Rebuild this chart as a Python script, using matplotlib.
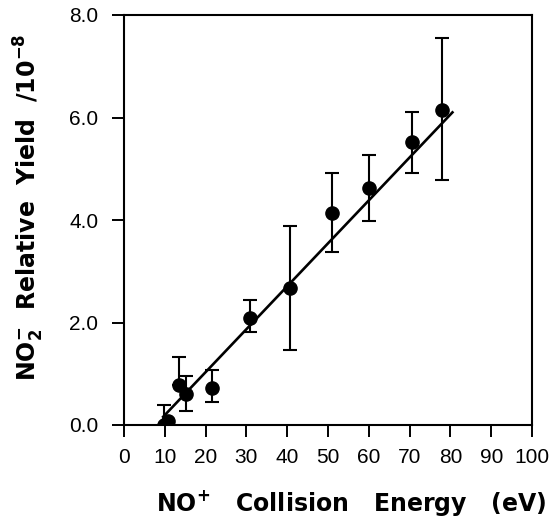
import matplotlib
matplotlib.use("Agg")
import matplotlib.pyplot as plt
import numpy as np

# Data
energy = [9.8, 10.8, 13.6, 15.2, 21.5, 30.9, 40.8, 51.1, 60.1, 70.7, 78.0]
yield_ = [0.00, 0.08, 0.78, 0.60, 0.73, 2.09, 2.68, 4.14, 4.63, 5.52, 6.15]
err_up = [0.40, 0.00, 1.32, 0.96, 1.07, 2.43, 3.89, 4.91, 5.27, 6.11, 7.55]
err_lo = [0.00, 0.00, 0.78, 0.28, 0.44, 1.81, 1.46, 3.37, 3.99, 4.92, 4.79]
fit_x = [9.6, 80.5]
fit_y = [0.16, 6.10]
x_ticks = [0, 10, 20, 30, 40, 50, 60, 70, 80, 90, 100]
y_ticks = [0.0, 2.0, 4.0, 6.0, 8.0]

plt.rcParams['font.family'] = ['Liberation Sans', 'DejaVu Sans']
plt.rcParams['mathtext.fontset'] = 'custom'
plt.rcParams['mathtext.rm'] = 'DejaVu Sans:bold'
plt.rcParams['mathtext.bf'] = 'DejaVu Sans:bold'
plt.rcParams['mathtext.default'] = 'rm'

fig = plt.figure(figsize=(5.53, 5.18), dpi=100)
ax = fig.add_axes([124/553, 93/518, 408/553, 410/518])

y = np.array(yield_)
lo = np.clip(y - np.array(err_lo), 0, None)
hi = np.clip(np.array(err_up) - y, 0, None)
ax.errorbar(energy, yield_, yerr=[lo, hi], fmt='none', ecolor='black',
            elinewidth=1.5, capsize=5, capthick=1.5, zorder=2)
ax.plot(fit_x, fit_y, color='black', lw=1.9, zorder=3)
ax.plot(energy, yield_, 'o', color='black', ms=9.5, zorder=4)

ax.set_xlim(0, 100)
ax.set_ylim(0, 8)
ax.set_xticks(x_ticks)
ax.set_xticklabels([str(v) for v in x_ticks])
ax.set_yticks(y_ticks)
ax.set_yticklabels([f"{v:.1f}" for v in y_ticks])
ax.tick_params(direction='out', length=8.6, width=1.4, labelsize=15)
ax.tick_params(axis='x', pad=8)
ax.tick_params(axis='y', pad=10)
for s in ax.spines.values():
    s.set_linewidth(1.5)

lab_font = dict(family='DejaVu Sans', fontsize=17, fontweight='bold')
ax.set_xlabel(r'NO$^{+}$   Collision   Energy   (eV)', **lab_font)
ax.xaxis.label.set_va('center')
ax.xaxis.set_label_coords(0.556, -0.19)
ax.set_ylabel(r'NO$_2^{-}$  Relative  Yield  /10$^{-8}$', **lab_font)
ax.yaxis.label.set_va('center')
ax.yaxis.set_label_coords(-0.232, 0.53)

fig.savefig('out.png', dpi=100)
